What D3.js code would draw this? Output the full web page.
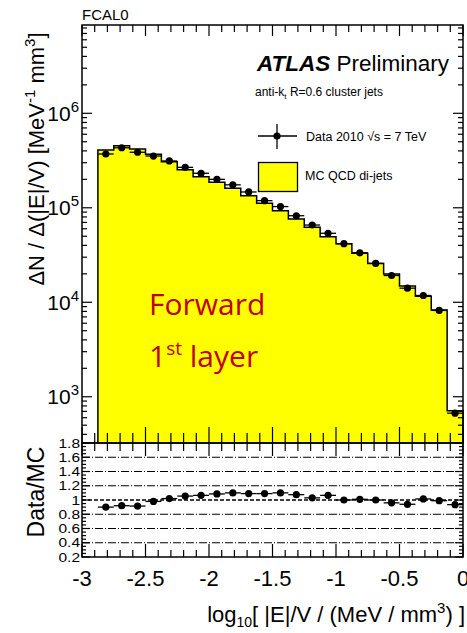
<!DOCTYPE html>
<html>
<head>
<meta charset="utf-8">
<script src="https://cdn.jsdelivr.net/npm/d3@7"></script>
<style>
  body { margin: 0; background: #fff; }
  svg { display: block; }
  text { font-family: "Liberation Sans", Arial, Helvetica, sans-serif; fill: #000; }
</style>
</head>
<body>
<svg id="chart" width="467" height="633"></svg>
<script>
// Bin edges in log10(|E|/V / (MeV/mm^3))
const binEdges = [-2.875, -2.75, -2.625, -2.5, -2.375, -2.25, -2.125, -2.0,
                  -1.875, -1.75, -1.625, -1.5, -1.375, -1.25, -1.125, -1.0,
                  -0.875, -0.75, -0.625, -0.5, -0.375, -0.25, -0.125, 0.0];

// MC QCD di-jets, dN / d(|E|/V)
const mcCounts = [4.09e5, 4.54e5, 4.19e5, 3.68e5, 3.07e5, 2.53e5, 2.13e5, 1.86e5,
                  1.61e5, 1.34e5, 1.12e5, 9.31e4, 7.61e4, 6.21e4, 4.94e4, 4.17e4,
                  3.30e4, 2.58e4, 1.99e4, 1.49e4, 1.16e4, 8.28e3, 711];

// Data 2010, sqrt(s) = 7 TeV
const dataCounts = [3.71e5, 4.32e5, 3.87e5, 3.53e5, 3.13e5, 2.68e5, 2.32e5, 2.00e5,
                    1.75e5, 1.47e5, 1.19e5, 1.03e5, 8.24e4, 6.57e4, 5.37e4, 4.17e4,
                    3.34e4, 2.58e4, 1.92e4, 1.41e4, 1.18e4, 8.20e3, 670];

// Data / MC
const ratioValues = [0.90, 0.92, 0.915, 0.98, 1.02, 1.055, 1.065, 1.085,
                     1.10, 1.09, 1.09, 1.10, 1.075, 1.03, 1.065, 1.0,
                     1.01, 1.0, 0.96, 0.94, 1.015, 0.99, 0.935];

const xMajorTicks = [-3, -2.5, -2, -1.5, -1, -0.5, 0];
const xTickLabels = ["-3", "-2.5", "-2", "-1.5", "-1", "-0.5", "0"];
const yDecades = [3, 4, 5, 6];
const ratioTicks = [0.2, 0.4, 0.6, 0.8, 1.0, 1.2, 1.4, 1.6, 1.8];
const ratioTickLabels = ["0.2", "0.4", "0.6", "0.8", "1", "1.2", "1.4", "1.6", "1.8"];
const ratioGrid = [0.4, 0.6, 0.8, 1.2, 1.4, 1.6];

const svg = d3.select("#chart");
const L = 82, R = 463, T = 25, MID = 443, B = 557;

const x = d3.scaleLinear().domain([-3, 0]).range([L, R]);
const y = d3.scaleLog().domain([324, 8.6e6]).range([MID, T]);
const yr = d3.scaleLinear().domain([0.2, 1.8]).range([B, MID]);

const bins = mcCounts.map((v, i) => ({
  lo: binEdges[i], hi: binEdges[i + 1], mid: (binEdges[i] + binEdges[i + 1]) / 2,
  mc: v, data: dataCounts[i], ratio: ratioValues[i]
}));

// ---------- upper panel: MC histogram ----------
const steps = [];
bins.forEach(b => { steps.push([x(b.lo), y(b.mc)]); steps.push([x(b.hi), y(b.mc)]); });
const fillPts = [[x(binEdges[0]), MID], ...steps, [x(binEdges[binEdges.length - 1]), MID]];
svg.append("path")
  .attr("d", d3.line()(fillPts) + "Z")
  .attr("fill", "#ffff00").attr("stroke", "none");
svg.append("path")
  .attr("d", d3.line()(fillPts))
  .attr("fill", "none").attr("stroke", "#000").attr("stroke-width", 1.5);

// data points with bin-width bars
const dataG = svg.append("g");
bins.forEach(b => {
  dataG.append("line")
    .attr("x1", x(b.lo)).attr("x2", x(b.hi))
    .attr("y1", y(b.data)).attr("y2", y(b.data))
    .attr("stroke", "#000").attr("stroke-width", 1.3);
  dataG.append("circle")
    .attr("cx", x(b.mid)).attr("cy", y(b.data)).attr("r", 3.6).attr("fill", "#000");
});

// ---------- lower panel: ratio ----------
ratioGrid.forEach(v => {
  svg.append("line")
    .attr("x1", L).attr("x2", R).attr("y1", yr(v)).attr("y2", yr(v))
    .attr("stroke", "#000").attr("stroke-width", 1)
    .attr("stroke-dasharray", "8,2,1,2");
});
svg.append("line")
  .attr("x1", L).attr("x2", R).attr("y1", yr(1)).attr("y2", yr(1))
  .attr("stroke", "#000").attr("stroke-width", 1.6)
  .attr("stroke-dasharray", "4,2");

const ratioG = svg.append("g");
bins.forEach(b => {
  ratioG.append("line")
    .attr("x1", x(b.lo)).attr("x2", x(b.hi))
    .attr("y1", yr(b.ratio)).attr("y2", yr(b.ratio))
    .attr("stroke", "#000").attr("stroke-width", 1.3);
  ratioG.append("circle")
    .attr("cx", x(b.mid)).attr("cy", yr(b.ratio)).attr("r", 3.6).attr("fill", "#000");
});

// ---------- frames and ticks ----------
const axes = svg.append("g").attr("stroke", "#000").attr("stroke-width", 1.2);
function tick(x1, y1, x2, y2) {
  axes.append("line").attr("x1", x1).attr("y1", y1).attr("x2", x2).attr("y2", y2);
}

const xMinor = d3.range(-30, 1).map(i => i / 10);
xMinor.forEach(v => {
  const isMajor = xMajorTicks.some(m => Math.abs(m - v) < 1e-6);
  const px = x(v);
  tick(px, T, px, T + (isMajor ? 11 : 7));            // top of upper panel
  tick(px, MID, px, MID - (isMajor ? 16 : 10));       // bottom of upper panel
  tick(px, MID, px, MID + (isMajor ? 13 : 8));        // top of ratio panel
  tick(px, B, px, B - (isMajor ? 13 : 7));            // bottom of ratio panel
});

// log ticks on both sides of the upper panel
[2, 3, 4, 5, 6].forEach(d => {
  for (let k = 1; k <= 9; k++) {
    const v = k * Math.pow(10, d);
    if (v < y.domain()[0] || v > y.domain()[1]) continue;
    const len = k === 1 ? 10 : 5;
    tick(L, y(v), L + len, y(v));
    tick(R, y(v), R - len, y(v));
  }
});

// ratio y ticks
d3.range(4, 37).map(i => i * 0.05).forEach(v => {
  const isMajor = Math.abs(v * 5 - Math.round(v * 5)) < 1e-6;
  const len = isMajor ? 8 : 4;
  tick(L, yr(v), L + len, yr(v));
  tick(R, yr(v), R - len, yr(v));
});

svg.append("rect").attr("x", L).attr("y", T).attr("width", R - L).attr("height", MID - T)
  .attr("fill", "none").attr("stroke", "#000").attr("stroke-width", 1.5);
svg.append("rect").attr("x", L).attr("y", MID).attr("width", R - L).attr("height", B - MID)
  .attr("fill", "none").attr("stroke", "#000").attr("stroke-width", 1.5);

// ---------- tick labels ----------
xMajorTicks.forEach((v, i) => {
  svg.append("text").attr("x", x(v)).attr("y", 586)
    .attr("text-anchor", "middle").attr("font-size", 22).text(xTickLabels[i]);
});

yDecades.forEach(d => {
  const t = svg.append("text").attr("x", 79).attr("y", y(Math.pow(10, d)) + 7.5)
    .attr("text-anchor", "end").attr("font-size", 21);
  t.append("tspan").text("10");
  t.append("tspan").attr("dy", -9).attr("font-size", 15).text(String(d));
});

// ratio labels are tightly packed, so they are drawn vertically condensed
ratioTicks.forEach((v, i) => {
  svg.append("text")
    .attr("transform", `translate(80,${yr(v) + 4.6}) scale(1,0.8)`)
    .attr("text-anchor", "end").attr("font-size", 15.5).text(ratioTickLabels[i]);
});

// ---------- axis titles ----------
const yTitle = svg.append("text")
  .attr("transform", "translate(44,159) rotate(-90)")
  .attr("text-anchor", "middle").attr("font-size", 22);
yTitle.append("tspan").text("ΔN / Δ(|E|/V)  [MeV");
yTitle.append("tspan").attr("dy", -9).attr("font-size", 15).text("-1");
yTitle.append("tspan").attr("dy", 9).text(" mm");
yTitle.append("tspan").attr("dy", -9).attr("font-size", 15).text("3");
yTitle.append("tspan").attr("dy", 9).text("]");

svg.append("text")
  .attr("transform", "translate(44,492) rotate(-90)")
  .attr("text-anchor", "middle").attr("font-size", 23).text("Data/MC");

const xTitle = svg.append("text").attr("x", 465).attr("y", 622)
  .attr("text-anchor", "end").attr("font-size", 22);
xTitle.append("tspan").text("log");
xTitle.append("tspan").attr("dy", 5).attr("font-size", 14).text("10");
xTitle.append("tspan").attr("dy", -5).text("[ |E|/V / (MeV / mm");
xTitle.append("tspan").attr("dy", -9).attr("font-size", 15).text("3");
xTitle.append("tspan").attr("dy", 9).text(") ]");

// ---------- labels inside the plot ----------
svg.append("text").attr("x", 82).attr("y", 20).attr("font-size", 15).text("FCAL0");

const atlas = svg.append("text").attr("x", 257).attr("y", 71).attr("font-size", 22.5);
atlas.append("tspan").attr("font-weight", "bold").attr("font-style", "italic").text("ATLAS");
atlas.append("tspan").text(" Preliminary");

const jets = svg.append("text").attr("x", 255).attr("y", 96).attr("font-size", 12);
jets.append("tspan").text("anti-k");
jets.append("tspan").attr("dy", 3).attr("font-size", 8).text("t");
jets.append("tspan").attr("dy", -3).text(" R=0.6 cluster jets");

// legend: data
svg.append("line").attr("x1", 258).attr("x2", 297).attr("y1", 136).attr("y2", 136)
  .attr("stroke", "#000").attr("stroke-width", 1.3);
svg.append("line").attr("x1", 277).attr("x2", 277).attr("y1", 124).attr("y2", 149)
  .attr("stroke", "#000").attr("stroke-width", 1.3);
svg.append("circle").attr("cx", 277).attr("cy", 136).attr("r", 3.6).attr("fill", "#000");
svg.append("text").attr("x", 306).attr("y", 141).attr("font-size", 12.5)
  .text("Data 2010 √s = 7 TeV");

// legend: MC
svg.append("rect").attr("x", 258.5).attr("y", 162.5).attr("width", 39).attr("height", 29)
  .attr("fill", "#ffff00").attr("stroke", "#000").attr("stroke-width", 1.3);
svg.append("text").attr("x", 305).attr("y", 180).attr("font-size", 12.5).text("MC QCD di-jets");

// region annotation
const noteFont = "'Open Sans', 'Noto Sans', sans-serif";
svg.append("text").attr("x", 149).attr("y", 315).attr("font-size", 30)
  .style("fill", "#c00000").style("font-family", noteFont).text("Forward");
const l2 = svg.append("text").attr("x", 149).attr("y", 367).attr("font-size", 30)
  .style("fill", "#c00000").style("font-family", noteFont);
l2.append("tspan").text("1");
l2.append("tspan").attr("dy", -12).attr("font-size", 19).text("st");
l2.append("tspan").attr("dy", 12).text(" layer");
</script>
</body>
</html>
